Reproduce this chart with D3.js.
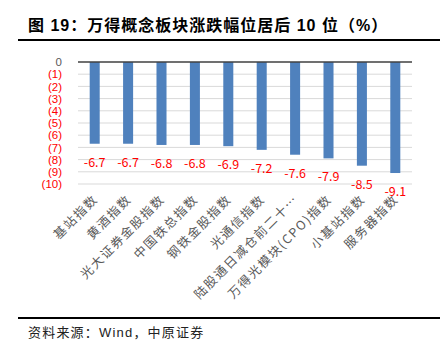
<!DOCTYPE html>
<html>
<head>
<meta charset="utf-8">
<script src="https://cdn.jsdelivr.net/npm/d3@7/dist/d3.min.js"></script>
<style>
  body { margin: 0; background: #fff; }
  svg { display: block; }
</style>
</head>
<body>
<svg id="chart" width="448" height="350"></svg>
<script>
// Bottom 10 Wind concept indices by weekly change (%)
const categories = ["基站指数", "黄酒指数", "光大证券金股指数", "中国铁总指数", "钢铁金股指数",
  "光通信指数", "陆股通日减仓前二十…", "万得光模块(CPO)指数", "小基站指数", "服务器指数"];
const values = [-6.7, -6.7, -6.8, -6.8, -6.9, -7.2, -7.6, -7.9, -8.5, -9.1];
const yTicks = [0, -1, -2, -3, -4, -5, -6, -7, -8, -9, -10];

const svg = d3.select("#chart");
const font = "'Noto Sans CJK SC', 'Noto Sans', sans-serif";

// Header and footer
svg.append("text")
  .attr("x", 28).attr("y", 31)
  .attr("font-family", "'Liberation Sans', 'Noto Sans CJK SC', sans-serif")
  .attr("font-size", 16).attr("font-weight", "bold").attr("fill", "#000")
  .attr("letter-spacing", 1)
  .text("图 19：万得概念板块涨跌幅位居后 10 位（%）");
svg.append("line").attr("x1", 18).attr("x2", 440).attr("y1", 40).attr("y2", 40)
  .attr("stroke", "#000").attr("stroke-width", 2);
svg.append("line").attr("x1", 18).attr("x2", 440).attr("y1", 318).attr("y2", 318)
  .attr("stroke", "#000").attr("stroke-width", 2);
svg.append("text")
  .attr("x", 28).attr("y", 337)
  .attr("font-family", "'Liberation Sans', 'Noto Sans CJK SC', sans-serif")
  .attr("font-size", 13).attr("fill", "#222").attr("letter-spacing", 1.2)
  .text("资料来源：Wind，中原证券");

// Scales
const x = d3.scaleBand().domain(categories).range([78, 412]).paddingInner(0.7).paddingOuter(0.35);
const y = d3.scaleLinear().domain([-10, 0]).range([184, 62]);

// Gridlines
svg.append("g")
  .selectAll("line").data(yTicks.filter(d => d !== 0)).join("line")
  .attr("x1", 78).attr("x2", 412)
  .attr("y1", d => y(d)).attr("y2", d => y(d))
  .attr("stroke", "#d9d9d9").attr("stroke-width", 1);

// Y axis labels: negatives in accounting parentheses
const yAxis = d3.axisLeft(y).tickValues(yTicks).tickSize(0).tickPadding(0)
  .tickFormat(d => d === 0 ? "0" : `(${Math.abs(d)})`);
const ya = svg.append("g").attr("transform", "translate(62,0)").call(yAxis);
ya.select(".domain").remove();
ya.selectAll("text")
  .attr("font-family", "'Liberation Sans', sans-serif").attr("font-size", 11.5)
  .attr("fill", d => d < 0 ? "#ff0000" : "#595959");

// Bars
svg.append("g").selectAll("rect").data(values).join("rect")
  .attr("x", (d, i) => x(categories[i]))
  .attr("width", x.bandwidth())
  .attr("y", y(0))
  .attr("height", d => y(d) - y(0))
  .attr("fill", "#4f81bd");

// Zero line
svg.append("line").attr("x1", 78).attr("x2", 412).attr("y1", y(0)).attr("y2", y(0))
  .attr("stroke", "#404040").attr("stroke-width", 1.5);

// Value labels under bars
svg.append("g").selectAll("text").data(values).join("text")
  .attr("x", (d, i) => x(categories[i]) + x.bandwidth() / 2)
  .attr("y", d => y(d) + 23)
  .attr("text-anchor", "middle")
  .attr("font-family", font).attr("font-size", 12.5).attr("fill", "#ff0000")
  .text(d => d.toFixed(1));

// Category labels rotated -45°
svg.append("g").selectAll("text").data(categories).join("text")
  .attr("transform", d => `translate(${x(d) + x.bandwidth() / 2 + 4},${200}) rotate(-45)`)
  .attr("text-anchor", "end")
  .attr("font-family", font).attr("font-size", 12.5).attr("fill", "#595959")
  .attr("letter-spacing", 1.6)
  .text(d => d);
</script>
</body>
</html>
